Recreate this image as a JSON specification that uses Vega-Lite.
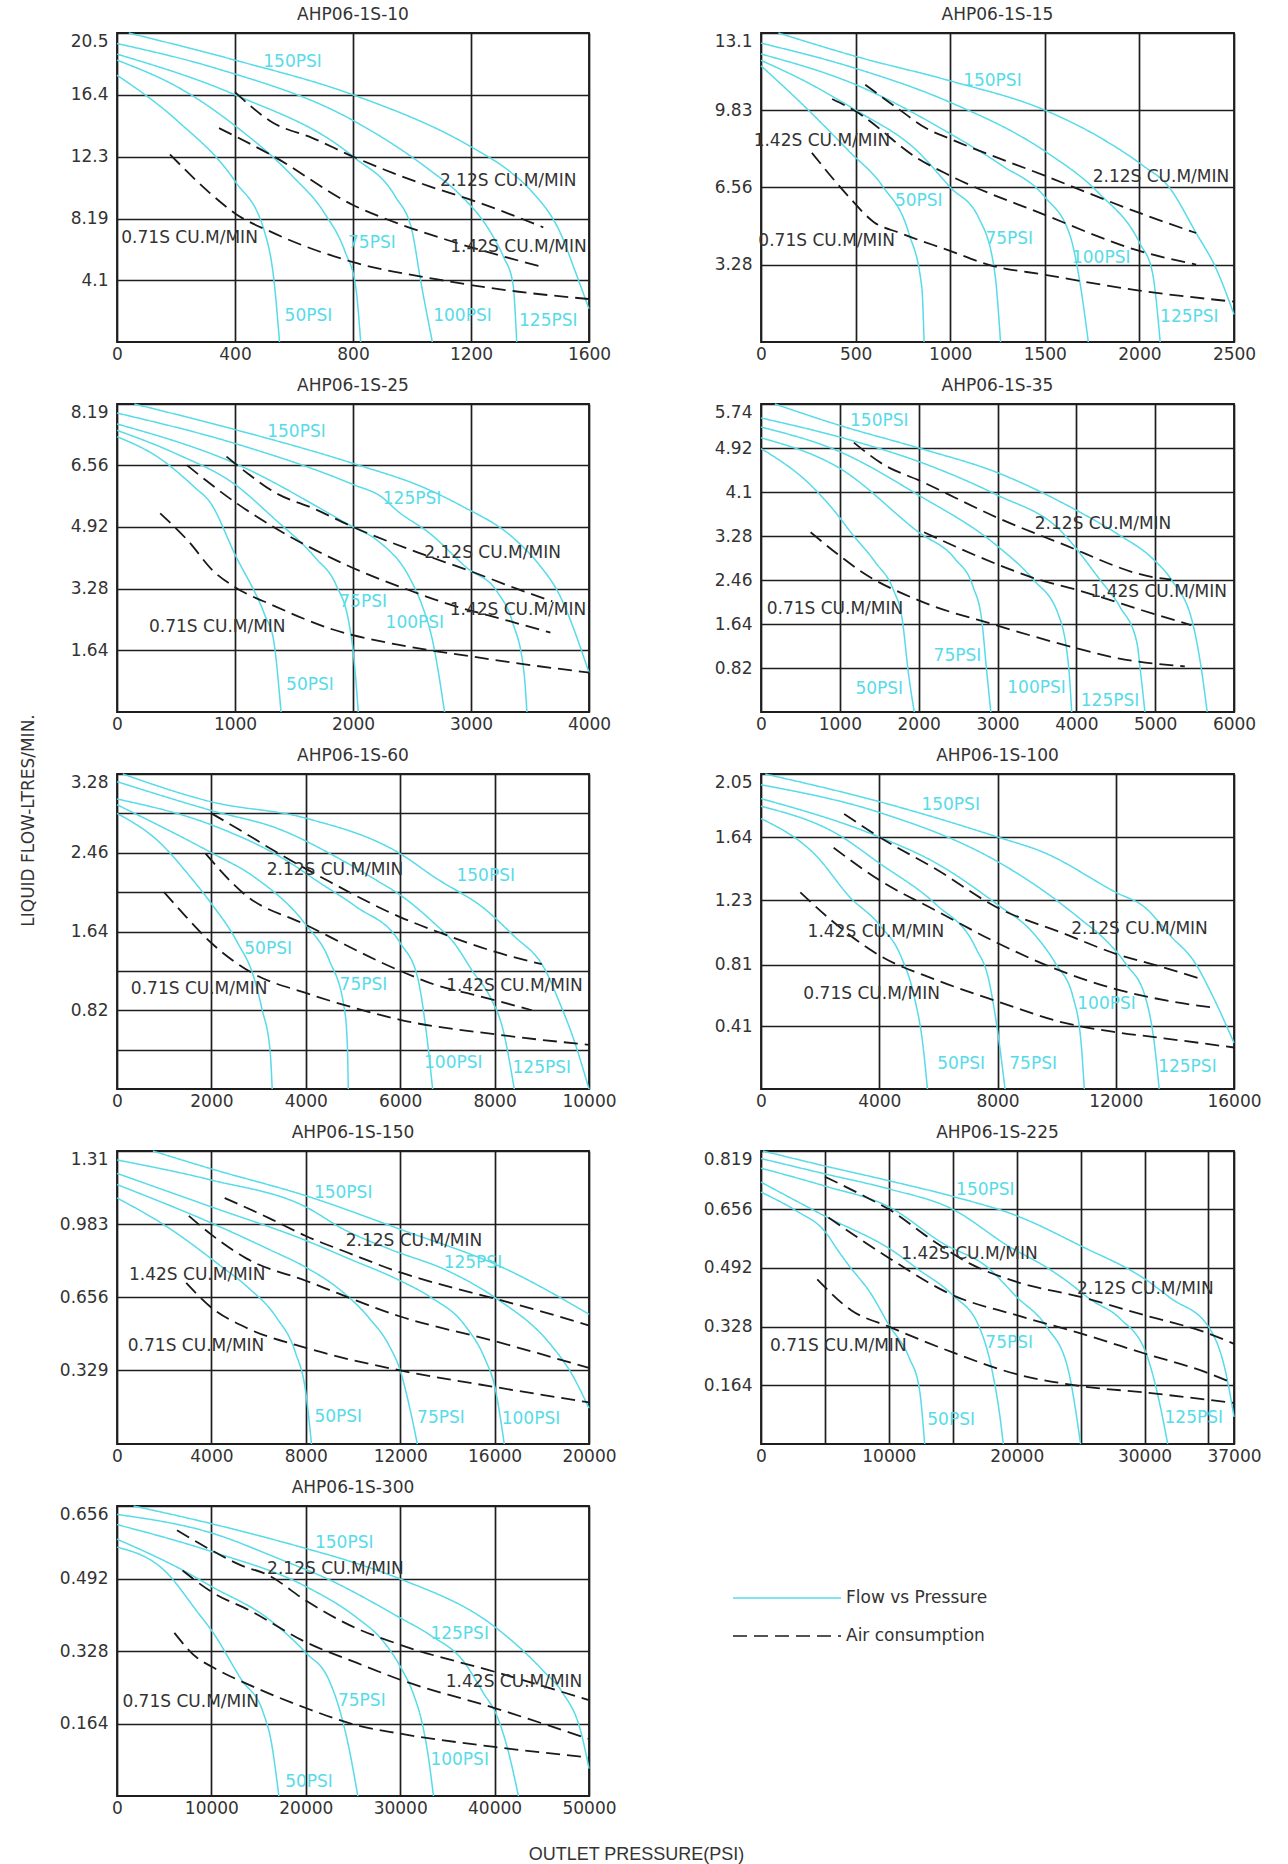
{
"$schema": "https://vega.github.io/schema/vega-lite/v6.json",
"background": "white",
"padding": {"left": 18, "top": 5, "right": 10, "bottom": 0},
"columns": 2,
"bounds": "flush",
"align": "each",
"spacing": {"row": 62, "column": 172},
"config": {
 "font": "DejaVu Sans",
 "view": {"stroke": "#1e1e1e", "strokeWidth": 1.8},
 "axis": {"grid": true, "gridColor": "#1e1e1e", "gridWidth": 1.7, "gridOpacity": 1, "domain": false, "ticks": false, "labelFont": "DejaVu Sans", "labelFontSize": 17, "labelColor": "#333", "format": ".6~g", "labelOverlap": false, "titleFont": "DejaVu Sans", "titleFontSize": 17, "titleFontWeight": "normal", "titleColor": "#333"},
 "axisX": {"labelPadding": 4, "labelFlush": false},
 "axisY": {"labelPadding": 9, "labelFlush": true},
 "title": {"font": "DejaVu Sans", "fontSize": 17, "fontWeight": "normal", "color": "#333", "offset": 6},
 "legend": {"orient": "none", "legendX": 615, "labelFont": "DejaVu Sans", "labelFontSize": 17, "labelColor": "#333", "symbolType": "stroke", "symbolSize": 11664, "symbolStrokeWidth": 1.6, "padding": 0},
 "text": {"font": "DejaVu Sans"}
},
"concat": [
{
 "title": "AHP06-1S-10", "width": 472, "height": 309,
 "encoding": {
  "x": {"field": "x", "type": "quantitative", "title": null, "scale": {"domain": [0, 1600], "nice": false, "zero": false}, "axis": {"values": [0, 400, 800, 1200, 1600]}},
  "y": {"field": "y", "type": "quantitative", "title": null, "scale": {"domain": [0, 20.5], "nice": false}, "axis": {"values": [4.1, 8.19, 12.3, 16.4, 20.5]}}
 },
 "layer": [
  {"data": {"values": [
   {"s":"150","t":"F","x":40,"y":20.5},{"s":"150","t":"F","x":400,"y":18.7},{"s":"150","t":"F","x":800,"y":16.4},{"s":"150","t":"F","x":1200,"y":12.95},{"s":"150","t":"F","x":1329,"y":11.35},{"s":"150","t":"F","x":1400,"y":10.11},{"s":"150","t":"F","x":1510,"y":6.92},{"s":"150","t":"F","x":1548,"y":4.96},{"s":"150","t":"F","x":1600,"y":2.2},
   {"s":"125","t":"F","x":0,"y":19.8},{"s":"125","t":"F","x":328,"y":18.2},{"s":"125","t":"F","x":800,"y":14.7},{"s":"125","t":"F","x":1064,"y":11.35},{"s":"125","t":"F","x":1157,"y":9.88},{"s":"125","t":"F","x":1277,"y":6.92},{"s":"125","t":"F","x":1310,"y":5.65},{"s":"125","t":"F","x":1342,"y":3.9},{"s":"125","t":"F","x":1355,"y":0},
   {"s":"100","t":"F","x":0,"y":19.1},{"s":"100","t":"F","x":400,"y":16.4},{"s":"100","t":"F","x":800,"y":12.3},{"s":"100","t":"F","x":943,"y":9.66},{"s":"100","t":"F","x":1000,"y":7.38},{"s":"100","t":"F","x":1029,"y":4.1},{"s":"100","t":"F","x":1069,"y":0},
   {"s":"75","t":"F","x":0,"y":18.7},{"s":"75","t":"F","x":225,"y":16.7},{"s":"75","t":"F","x":400,"y":14.35},{"s":"75","t":"F","x":595,"y":11.0},{"s":"75","t":"F","x":704,"y":8.53},{"s":"75","t":"F","x":773,"y":6.0},{"s":"75","t":"F","x":809,"y":3.7},{"s":"75","t":"F","x":826,"y":0},
   {"s":"50","t":"F","x":0,"y":17.7},{"s":"50","t":"F","x":203,"y":14.7},{"s":"50","t":"F","x":400,"y":10.67},{"s":"50","t":"F","x":499,"y":7.38},{"s":"50","t":"F","x":532,"y":4.1},{"s":"50","t":"F","x":551,"y":0},
   {"s":"a212","t":"A","x":400,"y":16.58},{"s":"a212","t":"A","x":526,"y":14.58},{"s":"a212","t":"A","x":663,"y":13.53},{"s":"a212","t":"A","x":800,"y":12.3},{"s":"a212","t":"A","x":1057,"y":10.34},{"s":"a212","t":"A","x":1200,"y":9.43},{"s":"a212","t":"A","x":1445,"y":7.61},
   {"s":"a142","t":"A","x":346,"y":14.19},{"s":"a142","t":"A","x":526,"y":12.37},{"s":"a142","t":"A","x":800,"y":9.09},{"s":"a142","t":"A","x":971,"y":7.73},{"s":"a142","t":"A","x":1114,"y":6.8},{"s":"a142","t":"A","x":1445,"y":4.96},
   {"s":"a071","t":"A","x":180,"y":12.44},{"s":"a071","t":"A","x":315,"y":9.88},{"s":"a071","t":"A","x":400,"y":8.53},{"s":"a071","t":"A","x":526,"y":7.27},{"s":"a071","t":"A","x":800,"y":5.3},{"s":"a071","t":"A","x":1086,"y":4.15},{"s":"a071","t":"A","x":1355,"y":3.35},{"s":"a071","t":"A","x":1600,"y":2.85}
  ]},
  "mark": {"type": "line", "interpolate": "monotone"},
  "encoding": {
   "detail": {"field": "s"},
   "color": {"field": "t", "type": "nominal", "title": null, "scale": {"domain": ["F", "A"], "range": ["#58dbe8", "#1a1a1a"]}, "legend": {"values": ["F"], "legendY": 1510, "labelExpr": "'Flow vs Pressure'"}},
   "strokeDash": {"field": "t", "type": "nominal", "title": null, "scale": {"domain": ["A", "F"], "range": [[14, 7], [1, 0]]}, "legend": {"values": ["A"], "legendY": 1548, "labelExpr": "'Air consumption'", "symbolStrokeColor": "#1a1a1a"}},
   "strokeWidth": {"condition": {"test": "datum.t == 'A'", "value": 1.8}, "value": 1.5}
  }},
  {"data": {"values": [
   {"l":"150PSI","k":"p","x":595,"y":18.6},{"l":"2.12S CU.M/MIN","k":"a","x":1326,"y":10.67},{"l":"0.71S CU.M/MIN","k":"a","x":246,"y":6.87},{"l":"75PSI","k":"p","x":864,"y":6.57},{"l":"1.42S CU.M/MIN","k":"a","x":1361,"y":6.27},{"l":"50PSI","k":"p","x":649,"y":1.75},{"l":"100PSI","k":"p","x":1171,"y":1.75},{"l":"125PSI","k":"p","x":1462,"y":1.37}
  ]},
  "mark": {"type": "text", "fontSize": 17, "align": "center", "baseline": "middle"},
  "encoding": {"text": {"field": "l"}, "color": {"condition": {"test": "datum.k == 'p'", "value": "#58dbe8"}, "value": "#333"}}}
 ]
},
{
 "title": "AHP06-1S-15", "width": 473, "height": 309,
 "encoding": {
  "x": {"field": "x", "type": "quantitative", "title": null, "scale": {"domain": [0, 2500], "nice": false, "zero": false}, "axis": {"values": [0, 500, 1000, 1500, 2000, 2500]}},
  "y": {"field": "y", "type": "quantitative", "title": null, "scale": {"domain": [0, 13.1], "nice": false}, "axis": {"values": [3.28, 6.56, 9.83, 13.1]}}
 },
 "layer": [
  {"data": {"values": [
   {"s":"150","t":"F","x":92,"y":13.1},{"s":"150","t":"F","x":500,"y":12.11},{"s":"150","t":"F","x":1000,"y":11.07},{"s":"150","t":"F","x":1500,"y":9.83},{"s":"150","t":"F","x":1787,"y":8.69},{"s":"150","t":"F","x":2015,"y":7.5},{"s":"150","t":"F","x":2152,"y":6.61},{"s":"150","t":"F","x":2300,"y":4.62},{"s":"150","t":"F","x":2405,"y":3.12},{"s":"150","t":"F","x":2500,"y":1.17},
   {"s":"125","t":"F","x":0,"y":12.67},{"s":"125","t":"F","x":500,"y":11.6},{"s":"125","t":"F","x":1000,"y":10.16},{"s":"125","t":"F","x":1500,"y":8.09},{"s":"125","t":"F","x":1787,"y":6.3},{"s":"125","t":"F","x":2004,"y":4.16},{"s":"125","t":"F","x":2068,"y":2.98},{"s":"125","t":"F","x":2110,"y":0},
   {"s":"100","t":"F","x":0,"y":12.21},{"s":"100","t":"F","x":500,"y":10.91},{"s":"100","t":"F","x":1000,"y":8.83},{"s":"100","t":"F","x":1270,"y":7.5},{"s":"100","t":"F","x":1500,"y":6.15},{"s":"100","t":"F","x":1635,"y":4.47},{"s":"100","t":"F","x":1690,"y":2.31},{"s":"100","t":"F","x":1730,"y":0},
   {"s":"75","t":"F","x":0,"y":11.94},{"s":"75","t":"F","x":229,"y":11.07},{"s":"75","t":"F","x":500,"y":9.83},{"s":"75","t":"F","x":827,"y":8.09},{"s":"75","t":"F","x":1000,"y":6.56},{"s":"75","t":"F","x":1153,"y":5.23},{"s":"75","t":"F","x":1235,"y":2.98},{"s":"75","t":"F","x":1266,"y":0},
   {"s":"50","t":"F","x":0,"y":11.71},{"s":"50","t":"F","x":229,"y":10.0},{"s":"50","t":"F","x":465,"y":8.09},{"s":"50","t":"F","x":643,"y":6.6},{"s":"50","t":"F","x":781,"y":4.62},{"s":"50","t":"F","x":850,"y":2.31},{"s":"50","t":"F","x":862,"y":0},
   {"s":"a212","t":"A","x":551,"y":10.91},{"s":"a212","t":"A","x":735,"y":9.83},{"s":"a212","t":"A","x":873,"y":9.06},{"s":"a212","t":"A","x":1000,"y":8.61},{"s":"a212","t":"A","x":1500,"y":7.05},{"s":"a212","t":"A","x":2004,"y":5.46},{"s":"a212","t":"A","x":2300,"y":4.62},
   {"s":"a142","t":"A","x":376,"y":10.3},{"s":"a142","t":"A","x":500,"y":9.78},{"s":"a142","t":"A","x":827,"y":7.79},{"s":"a142","t":"A","x":1000,"y":7.05},{"s":"a142","t":"A","x":1500,"y":5.39},{"s":"a142","t":"A","x":2000,"y":3.86},{"s":"a142","t":"A","x":2300,"y":3.28},
   {"s":"a071","t":"A","x":269,"y":8.02},{"s":"a071","t":"A","x":465,"y":6.15},{"s":"a071","t":"A","x":597,"y":5.08},{"s":"a071","t":"A","x":735,"y":4.62},{"s":"a071","t":"A","x":1000,"y":3.86},{"s":"a071","t":"A","x":1200,"y":3.28},{"s":"a071","t":"A","x":1500,"y":2.85},{"s":"a071","t":"A","x":2000,"y":2.18},{"s":"a071","t":"A","x":2500,"y":1.71}
  ]},
  "mark": {"type": "line", "interpolate": "monotone"},
  "encoding": {
   "detail": {"field": "s"},
   "color": {"field": "t", "type": "nominal", "title": null, "scale": {"domain": ["F", "A"], "range": ["#58dbe8", "#1a1a1a"]}, "legend": null},
   "strokeDash": {"field": "t", "type": "nominal", "title": null, "scale": {"domain": ["A", "F"], "range": [[14, 7], [1, 0]]}, "legend": null},
   "strokeWidth": {"condition": {"test": "datum.t == 'A'", "value": 1.8}, "value": 1.5}
  }},
  {"data": {"values": [
   {"l":"150PSI","k":"p","x":1223,"y":11.07},{"l":"1.42S CU.M/MIN","k":"a","x":322,"y":8.51},{"l":"2.12S CU.M/MIN","k":"a","x":2114,"y":6.98},{"l":"50PSI","k":"p","x":834,"y":5.99},{"l":"0.71S CU.M/MIN","k":"a","x":347,"y":4.29},{"l":"75PSI","k":"p","x":1312,"y":4.37},{"l":"100PSI","k":"p","x":1798,"y":3.55},{"l":"125PSI","k":"p","x":2264,"y":1.08}
  ]},
  "mark": {"type": "text", "fontSize": 17, "align": "center", "baseline": "middle"},
  "encoding": {"text": {"field": "l"}, "color": {"condition": {"test": "datum.k == 'p'", "value": "#58dbe8"}, "value": "#333"}}}
 ]
},
{
 "title": "AHP06-1S-25", "width": 472, "height": 308,
 "encoding": {
  "x": {"field": "x", "type": "quantitative", "title": null, "scale": {"domain": [0, 4000], "nice": false, "zero": false}, "axis": {"values": [0, 1000, 2000, 3000, 4000]}},
  "y": {"field": "y", "type": "quantitative", "title": "LIQUID FLOW-LTRES/MIN.", "scale": {"domain": [0, 8.19], "nice": false}, "axis": {"values": [1.64, 3.28, 4.92, 6.56, 8.19], "titleX": -80, "titleY": 416, "titleAlign": "center", "titleAngle": 270, "titleBaseline": "bottom", "titleFontSize": 17}}
 },
 "layer": [
  {"data": {"values": [
   {"s":"150","t":"F","x":147,"y":8.19},{"s":"150","t":"F","x":1000,"y":7.51},{"s":"150","t":"F","x":2000,"y":6.61},{"s":"150","t":"F","x":2621,"y":5.94},{"s":"150","t":"F","x":2914,"y":5.49},{"s":"150","t":"F","x":3369,"y":4.6},{"s":"150","t":"F","x":3577,"y":3.92},{"s":"150","t":"F","x":3737,"y":3.19},{"s":"150","t":"F","x":4000,"y":1.05},
   {"s":"125","t":"F","x":0,"y":7.95},{"s":"125","t":"F","x":1000,"y":7.14},{"s":"125","t":"F","x":2000,"y":6.05},{"s":"125","t":"F","x":2241,"y":5.72},{"s":"125","t":"F","x":2379,"y":5.34},{"s":"125","t":"F","x":2655,"y":4.74},{"s":"125","t":"F","x":2966,"y":3.83},{"s":"125","t":"F","x":3224,"y":3.19},{"s":"125","t":"F","x":3353,"y":2.38},{"s":"125","t":"F","x":3449,"y":1.05},{"s":"125","t":"F","x":3474,"y":0},
   {"s":"100","t":"F","x":0,"y":7.66},{"s":"100","t":"F","x":1000,"y":6.61},{"s":"100","t":"F","x":2000,"y":4.92},{"s":"100","t":"F","x":2207,"y":4.56},{"s":"100","t":"F","x":2483,"y":3.55},{"s":"100","t":"F","x":2586,"y":2.83},{"s":"100","t":"F","x":2672,"y":1.93},{"s":"100","t":"F","x":2776,"y":0},
   {"s":"75","t":"F","x":0,"y":7.49},{"s":"75","t":"F","x":506,"y":6.86},{"s":"75","t":"F","x":1000,"y":6.05},{"s":"75","t":"F","x":1326,"y":5.16},{"s":"75","t":"F","x":1681,"y":4.1},{"s":"75","t":"F","x":1858,"y":3.37},{"s":"75","t":"F","x":1965,"y":2.38},{"s":"75","t":"F","x":2000,"y":1.66},{"s":"75","t":"F","x":2045,"y":0},
   {"s":"50","t":"F","x":0,"y":7.32},{"s":"50","t":"F","x":350,"y":6.77},{"s":"50","t":"F","x":663,"y":5.96},{"s":"50","t":"F","x":788,"y":5.58},{"s":"50","t":"F","x":1000,"y":4.19},{"s":"50","t":"F","x":1255,"y":2.56},{"s":"50","t":"F","x":1326,"y":1.93},{"s":"50","t":"F","x":1390,"y":0},
   {"s":"a212","t":"A","x":928,"y":6.79},{"s":"a212","t":"A","x":1113,"y":6.33},{"s":"a212","t":"A","x":1326,"y":5.86},{"s":"a212","t":"A","x":1681,"y":5.39},{"s":"a212","t":"A","x":2000,"y":4.92},{"s":"a212","t":"A","x":2552,"y":4.24},{"s":"a212","t":"A","x":3000,"y":3.74},{"s":"a212","t":"A","x":3385,"y":3.28},{"s":"a212","t":"A","x":3689,"y":2.94},
   {"s":"a142","t":"A","x":594,"y":6.56},{"s":"a142","t":"A","x":1000,"y":5.58},{"s":"a142","t":"A","x":1326,"y":4.92},{"s":"a142","t":"A","x":2000,"y":3.83},{"s":"a142","t":"A","x":2483,"y":3.23},{"s":"a142","t":"A","x":2759,"y":2.92},{"s":"a142","t":"A","x":3321,"y":2.42},{"s":"a142","t":"A","x":3673,"y":2.11},
   {"s":"a071","t":"A","x":366,"y":5.28},{"s":"a071","t":"A","x":600,"y":4.56},{"s":"a071","t":"A","x":819,"y":3.74},{"s":"a071","t":"A","x":1000,"y":3.32},{"s":"a071","t":"A","x":1326,"y":2.83},{"s":"a071","t":"A","x":1823,"y":2.2},{"s":"a071","t":"A","x":2379,"y":1.79},{"s":"a071","t":"A","x":3000,"y":1.48},{"s":"a071","t":"A","x":3545,"y":1.23},{"s":"a071","t":"A","x":4000,"y":1.05}
  ]},
  "mark": {"type": "line", "interpolate": "monotone"},
  "encoding": {
   "detail": {"field": "s"},
   "color": {"field": "t", "type": "nominal", "title": null, "scale": {"domain": ["F", "A"], "range": ["#58dbe8", "#1a1a1a"]}, "legend": null},
   "strokeDash": {"field": "t", "type": "nominal", "title": null, "scale": {"domain": ["A", "F"], "range": [[14, 7], [1, 0]]}, "legend": null},
   "strokeWidth": {"condition": {"test": "datum.t == 'A'", "value": 1.8}, "value": 1.5}
  }},
  {"data": {"values": [
   {"l":"150PSI","k":"p","x":1521,"y":7.45},{"l":"125PSI","k":"p","x":2500,"y":5.66},{"l":"2.12S CU.M/MIN","k":"a","x":3183,"y":4.24},{"l":"75PSI","k":"p","x":2086,"y":2.92},{"l":"1.42S CU.M/MIN","k":"a","x":3398,"y":2.7},{"l":"100PSI","k":"p","x":2524,"y":2.36},{"l":"0.71S CU.M/MIN","k":"a","x":850,"y":2.27},{"l":"50PSI","k":"p","x":1635,"y":0.71}
  ]},
  "mark": {"type": "text", "fontSize": 17, "align": "center", "baseline": "middle"},
  "encoding": {"text": {"field": "l"}, "color": {"condition": {"test": "datum.k == 'p'", "value": "#58dbe8"}, "value": "#333"}}}
 ]
},
{
 "title": "AHP06-1S-35", "width": 473, "height": 308,
 "encoding": {
  "x": {"field": "x", "type": "quantitative", "title": null, "scale": {"domain": [0, 6000], "nice": false, "zero": false}, "axis": {"values": [0, 1000, 2000, 3000, 4000, 5000, 6000]}},
  "y": {"field": "y", "type": "quantitative", "title": null, "scale": {"domain": [0, 5.74], "nice": false}, "axis": {"values": [0.82, 1.64, 2.46, 3.28, 4.1, 4.92, 5.74]}}
 },
 "layer": [
  {"data": {"values": [
   {"s":"150","t":"F","x":176,"y":5.74},{"s":"150","t":"F","x":1000,"y":5.34},{"s":"150","t":"F","x":2000,"y":4.92},{"s":"150","t":"F","x":3000,"y":4.46},{"s":"150","t":"F","x":4000,"y":3.76},{"s":"150","t":"F","x":4531,"y":3.31},{"s":"150","t":"F","x":4974,"y":2.85},{"s":"150","t":"F","x":5203,"y":2.47},{"s":"150","t":"F","x":5482,"y":1.62},{"s":"150","t":"F","x":5584,"y":0.82},{"s":"150","t":"F","x":5660,"y":0},
   {"s":"125","t":"F","x":0,"y":5.48},{"s":"125","t":"F","x":1178,"y":5.05},{"s":"125","t":"F","x":2124,"y":4.6},{"s":"125","t":"F","x":3000,"y":4.04},{"s":"125","t":"F","x":3771,"y":3.42},{"s":"125","t":"F","x":4297,"y":2.47},{"s":"125","t":"F","x":4557,"y":1.95},{"s":"125","t":"F","x":4766,"y":1.31},{"s":"125","t":"F","x":4818,"y":0.7},{"s":"125","t":"F","x":4870,"y":0},
   {"s":"100","t":"F","x":0,"y":5.31},{"s":"100","t":"F","x":1000,"y":4.85},{"s":"100","t":"F","x":2000,"y":4.04},{"s":"100","t":"F","x":3000,"y":3.09},{"s":"100","t":"F","x":3452,"y":2.47},{"s":"100","t":"F","x":3771,"y":1.82},{"s":"100","t":"F","x":3904,"y":0.82},{"s":"100","t":"F","x":3941,"y":0},
   {"s":"75","t":"F","x":0,"y":5.11},{"s":"75","t":"F","x":1000,"y":4.54},{"s":"75","t":"F","x":2000,"y":3.35},{"s":"75","t":"F","x":2463,"y":2.85},{"s":"75","t":"F","x":2689,"y":2.34},{"s":"75","t":"F","x":2802,"y":1.69},{"s":"75","t":"F","x":2859,"y":0.82},{"s":"75","t":"F","x":2915,"y":0},
   {"s":"50","t":"F","x":0,"y":4.91},{"s":"50","t":"F","x":629,"y":4.23},{"s":"50","t":"F","x":962,"y":3.69},{"s":"50","t":"F","x":1122,"y":3.38},{"s":"50","t":"F","x":1456,"y":2.78},{"s":"50","t":"F","x":1678,"y":2.28},{"s":"50","t":"F","x":1789,"y":1.75},{"s":"50","t":"F","x":1872,"y":0.7},{"s":"50","t":"F","x":1944,"y":0},
   {"s":"a212","t":"A","x":1178,"y":5.02},{"s":"a212","t":"A","x":1567,"y":4.6},{"s":"a212","t":"A","x":2000,"y":4.32},{"s":"a212","t":"A","x":3000,"y":3.62},{"s":"a212","t":"A","x":3771,"y":3.16},{"s":"a212","t":"A","x":5026,"y":2.5},{"s":"a212","t":"A","x":5203,"y":2.47},
   {"s":"a142","t":"A","x":2068,"y":3.35},{"s":"a142","t":"A","x":3000,"y":2.75},{"s":"a142","t":"A","x":3452,"y":2.5},{"s":"a142","t":"A","x":4000,"y":2.28},{"s":"a142","t":"A","x":5000,"y":1.82},{"s":"a142","t":"A","x":5457,"y":1.62},
   {"s":"a071","t":"A","x":629,"y":3.35},{"s":"a071","t":"A","x":1000,"y":2.91},{"s":"a071","t":"A","x":1289,"y":2.6},{"s":"a071","t":"A","x":2000,"y":2.08},{"s":"a071","t":"A","x":3000,"y":1.61},{"s":"a071","t":"A","x":4000,"y":1.19},{"s":"a071","t":"A","x":4531,"y":1.0},{"s":"a071","t":"A","x":5376,"y":0.85}
  ]},
  "mark": {"type": "line", "interpolate": "monotone"},
  "encoding": {
   "detail": {"field": "s"},
   "color": {"field": "t", "type": "nominal", "title": null, "scale": {"domain": ["F", "A"], "range": ["#58dbe8", "#1a1a1a"]}, "legend": null},
   "strokeDash": {"field": "t", "type": "nominal", "title": null, "scale": {"domain": ["A", "F"], "range": [[14, 7], [1, 0]]}, "legend": null},
   "strokeWidth": {"condition": {"test": "datum.t == 'A'", "value": 1.8}, "value": 1.5}
  }},
  {"data": {"values": [
   {"l":"150PSI","k":"p","x":1500,"y":5.42},{"l":"2.12S CU.M/MIN","k":"a","x":4339,"y":3.51},{"l":"1.42S CU.M/MIN","k":"a","x":5045,"y":2.23},{"l":"0.71S CU.M/MIN","k":"a","x":938,"y":1.92},{"l":"75PSI","k":"p","x":2492,"y":1.05},{"l":"50PSI","k":"p","x":1500,"y":0.42},{"l":"100PSI","k":"p","x":3495,"y":0.44},{"l":"125PSI","k":"p","x":4427,"y":0.21}
  ]},
  "mark": {"type": "text", "fontSize": 17, "align": "center", "baseline": "middle"},
  "encoding": {"text": {"field": "l"}, "color": {"condition": {"test": "datum.k == 'p'", "value": "#58dbe8"}, "value": "#333"}}}
 ]
},
{
 "title": "AHP06-1S-60", "width": 472, "height": 315,
 "encoding": {
  "x": {"field": "x", "type": "quantitative", "title": null, "scale": {"domain": [0, 10000], "nice": false, "zero": false}, "axis": {"values": [0, 2000, 4000, 6000, 8000, 10000]}},
  "y": {"field": "y", "type": "quantitative", "title": null, "scale": {"domain": [0, 3.28], "nice": false}, "axis": {"values": [0.41, 0.82, 1.23, 1.64, 2.05, 2.46, 2.87, 3.28], "labelExpr": "indexof([0.82, 1.64, 2.46, 3.28], datum.value) >= 0 ? datum.label : ''"}}
 },
 "layer": [
  {"data": {"values": [
   {"s":"150","t":"F","x":122,"y":3.28},{"s":"150","t":"F","x":2000,"y":2.99},{"s":"150","t":"F","x":4000,"y":2.82},{"s":"150","t":"F","x":6000,"y":2.45},{"s":"150","t":"F","x":6712,"y":2.21},{"s":"150","t":"F","x":7828,"y":1.86},{"s":"150","t":"F","x":8417,"y":1.59},{"s":"150","t":"F","x":9000,"y":1.3},{"s":"150","t":"F","x":9083,"y":1.23},{"s":"150","t":"F","x":9333,"y":0.95},{"s":"150","t":"F","x":9667,"y":0.53},{"s":"150","t":"F","x":10000,"y":0},
   {"s":"125","t":"F","x":0,"y":3.2},{"s":"125","t":"F","x":2000,"y":2.9},{"s":"125","t":"F","x":3416,"y":2.71},{"s":"125","t":"F","x":4739,"y":2.39},{"s":"125","t":"F","x":5542,"y":2.16},{"s":"125","t":"F","x":6000,"y":2.02},{"s":"125","t":"F","x":6712,"y":1.73},{"s":"125","t":"F","x":7142,"y":1.52},{"s":"125","t":"F","x":7528,"y":1.23},{"s":"125","t":"F","x":7914,"y":0.95},{"s":"125","t":"F","x":8167,"y":0.64},{"s":"125","t":"F","x":8417,"y":0},
   {"s":"100","t":"F","x":0,"y":3.02},{"s":"100","t":"F","x":2000,"y":2.75},{"s":"100","t":"F","x":3588,"y":2.38},{"s":"100","t":"F","x":4257,"y":2.16},{"s":"100","t":"F","x":5060,"y":1.9},{"s":"100","t":"F","x":6000,"y":1.52},{"s":"100","t":"F","x":6369,"y":1.16},{"s":"100","t":"F","x":6541,"y":0.64},{"s":"100","t":"F","x":6687,"y":0},
   {"s":"75","t":"F","x":0,"y":2.96},{"s":"75","t":"F","x":2000,"y":2.46},{"s":"75","t":"F","x":2901,"y":2.21},{"s":"75","t":"F","x":4000,"y":1.71},{"s":"75","t":"F","x":4498,"y":1.34},{"s":"75","t":"F","x":4819,"y":0.83},{"s":"75","t":"F","x":4880,"y":0.46},{"s":"75","t":"F","x":4900,"y":0},
   {"s":"50","t":"F","x":0,"y":2.87},{"s":"50","t":"F","x":898,"y":2.57},{"s":"50","t":"F","x":1551,"y":2.21},{"s":"50","t":"F","x":2000,"y":1.93},{"s":"50","t":"F","x":2558,"y":1.52},{"s":"50","t":"F","x":2901,"y":1.16},{"s":"50","t":"F","x":3073,"y":0.83},{"s":"50","t":"F","x":3245,"y":0.39},{"s":"50","t":"F","x":3288,"y":0},
   {"s":"a212","t":"A","x":2000,"y":2.87},{"s":"a212","t":"A","x":2558,"y":2.71},{"s":"a212","t":"A","x":3330,"y":2.48},{"s":"a212","t":"A","x":4498,"y":2.16},{"s":"a212","t":"A","x":6000,"y":1.79},{"s":"a212","t":"A","x":6884,"y":1.62},{"s":"a212","t":"A","x":8000,"y":1.43},{"s":"a212","t":"A","x":9000,"y":1.3},
   {"s":"a142","t":"A","x":1878,"y":2.45},{"s":"a142","t":"A","x":2695,"y":2.03},{"s":"a142","t":"A","x":4000,"y":1.71},{"s":"a142","t":"A","x":6000,"y":1.23},{"s":"a142","t":"A","x":6712,"y":1.09},{"s":"a142","t":"A","x":7657,"y":0.97},{"s":"a142","t":"A","x":8792,"y":0.82},
   {"s":"a071","t":"A","x":996,"y":2.05},{"s":"a071","t":"A","x":1469,"y":1.79},{"s":"a071","t":"A","x":2000,"y":1.52},{"s":"a071","t":"A","x":2858,"y":1.21},{"s":"a071","t":"A","x":4000,"y":1.0},{"s":"a071","t":"A","x":5060,"y":0.84},{"s":"a071","t":"A","x":6000,"y":0.72},{"s":"a071","t":"A","x":8000,"y":0.57},{"s":"a071","t":"A","x":10000,"y":0.46}
  ]},
  "mark": {"type": "line", "interpolate": "monotone"},
  "encoding": {
   "detail": {"field": "s"},
   "color": {"field": "t", "type": "nominal", "title": null, "scale": {"domain": ["F", "A"], "range": ["#58dbe8", "#1a1a1a"]}, "legend": null},
   "strokeDash": {"field": "t", "type": "nominal", "title": null, "scale": {"domain": ["A", "F"], "range": [[14, 7], [1, 0]]}, "legend": null},
   "strokeWidth": {"condition": {"test": "datum.t == 'A'", "value": 1.8}, "value": 1.5}
  }},
  {"data": {"values": [
   {"l":"2.12S CU.M/MIN","k":"a","x":4618,"y":2.28},{"l":"150PSI","k":"p","x":7811,"y":2.22},{"l":"50PSI","k":"p","x":3202,"y":1.46},{"l":"0.71S CU.M/MIN","k":"a","x":1740,"y":1.04},{"l":"75PSI","k":"p","x":5221,"y":1.08},{"l":"1.42S CU.M/MIN","k":"a","x":8420,"y":1.07},{"l":"100PSI","k":"p","x":7124,"y":0.27},{"l":"125PSI","k":"p","x":9000,"y":0.22}
  ]},
  "mark": {"type": "text", "fontSize": 17, "align": "center", "baseline": "middle"},
  "encoding": {"text": {"field": "l"}, "color": {"condition": {"test": "datum.k == 'p'", "value": "#58dbe8"}, "value": "#333"}}}
 ]
},
{
 "title": "AHP06-1S-100", "width": 473, "height": 315,
 "encoding": {
  "x": {"field": "x", "type": "quantitative", "title": null, "scale": {"domain": [0, 16000], "nice": false, "zero": false}, "axis": {"values": [0, 4000, 8000, 12000, 16000]}},
  "y": {"field": "y", "type": "quantitative", "title": null, "scale": {"domain": [0, 2.05], "nice": false}, "axis": {"values": [0.41, 0.81, 1.23, 1.64, 2.05]}}
 },
 "layer": [
  {"data": {"values": [
   {"s":"150","t":"F","x":143,"y":2.05},{"s":"150","t":"F","x":4000,"y":1.87},{"s":"150","t":"F","x":8000,"y":1.64},{"s":"150","t":"F","x":9560,"y":1.54},{"s":"150","t":"F","x":12000,"y":1.28},{"s":"150","t":"F","x":12997,"y":1.18},{"s":"150","t":"F","x":13885,"y":0.99},{"s":"150","t":"F","x":14652,"y":0.83},{"s":"150","t":"F","x":15291,"y":0.6},{"s":"150","t":"F","x":16000,"y":0.3},
   {"s":"125","t":"F","x":0,"y":1.98},{"s":"125","t":"F","x":4000,"y":1.8},{"s":"125","t":"F","x":8000,"y":1.48},{"s":"125","t":"F","x":9702,"y":1.27},{"s":"125","t":"F","x":10908,"y":1.09},{"s":"125","t":"F","x":11546,"y":0.99},{"s":"125","t":"F","x":12358,"y":0.81},{"s":"125","t":"F","x":12997,"y":0.6},{"s":"125","t":"F","x":13316,"y":0.28},{"s":"125","t":"F","x":13469,"y":0},
   {"s":"100","t":"F","x":0,"y":1.89},{"s":"100","t":"F","x":4000,"y":1.64},{"s":"100","t":"F","x":5926,"y":1.47},{"s":"100","t":"F","x":8000,"y":1.2},{"s":"100","t":"F","x":9135,"y":1.03},{"s":"100","t":"F","x":9986,"y":0.81},{"s":"100","t":"F","x":10553,"y":0.6},{"s":"100","t":"F","x":10837,"y":0.28},{"s":"100","t":"F","x":10936,"y":0},
   {"s":"75","t":"F","x":0,"y":1.84},{"s":"75","t":"F","x":2571,"y":1.66},{"s":"75","t":"F","x":4000,"y":1.47},{"s":"75","t":"F","x":5926,"y":1.2},{"s":"75","t":"F","x":7259,"y":0.92},{"s":"75","t":"F","x":7704,"y":0.71},{"s":"75","t":"F","x":8000,"y":0.38},{"s":"75","t":"F","x":8255,"y":0},
   {"s":"50","t":"F","x":0,"y":1.76},{"s":"50","t":"F","x":1857,"y":1.52},{"s":"50","t":"F","x":3000,"y":1.25},{"s":"50","t":"F","x":4000,"y":1.07},{"s":"50","t":"F","x":4741,"y":0.86},{"s":"50","t":"F","x":5185,"y":0.6},{"s":"50","t":"F","x":5481,"y":0.28},{"s":"50","t":"F","x":5630,"y":0},
   {"s":"a212","t":"A","x":2814,"y":1.79},{"s":"a212","t":"A","x":4000,"y":1.64},{"s":"a212","t":"A","x":5926,"y":1.43},{"s":"a212","t":"A","x":8000,"y":1.18},{"s":"a212","t":"A","x":10270,"y":1.01},{"s":"a212","t":"A","x":12000,"y":0.88},{"s":"a212","t":"A","x":13636,"y":0.79},{"s":"a212","t":"A","x":14978,"y":0.71},
   {"s":"a142","t":"A","x":2457,"y":1.57},{"s":"a142","t":"A","x":4000,"y":1.36},{"s":"a142","t":"A","x":5926,"y":1.16},{"s":"a142","t":"A","x":8000,"y":0.95},{"s":"a142","t":"A","x":9986,"y":0.78},{"s":"a142","t":"A","x":12000,"y":0.65},{"s":"a142","t":"A","x":13885,"y":0.57},{"s":"a142","t":"A","x":15291,"y":0.53},
   {"s":"a071","t":"A","x":1329,"y":1.28},{"s":"a071","t":"A","x":2429,"y":1.09},{"s":"a071","t":"A","x":4000,"y":0.87},{"s":"a071","t":"A","x":5926,"y":0.71},{"s":"a071","t":"A","x":8000,"y":0.57},{"s":"a071","t":"A","x":10270,"y":0.43},{"s":"a071","t":"A","x":12000,"y":0.37},{"s":"a071","t":"A","x":13636,"y":0.33},{"s":"a071","t":"A","x":16000,"y":0.27}
  ]},
  "mark": {"type": "line", "interpolate": "monotone"},
  "encoding": {
   "detail": {"field": "s"},
   "color": {"field": "t", "type": "nominal", "title": null, "scale": {"domain": ["F", "A"], "range": ["#58dbe8", "#1a1a1a"]}, "legend": null},
   "strokeDash": {"field": "t", "type": "nominal", "title": null, "scale": {"domain": ["A", "F"], "range": [[14, 7], [1, 0]]}, "legend": null},
   "strokeWidth": {"condition": {"test": "datum.t == 'A'", "value": 1.8}, "value": 1.5}
  }},
  {"data": {"values": [
   {"l":"150PSI","k":"p","x":6415,"y":1.85},{"l":"1.42S CU.M/MIN","k":"a","x":3886,"y":1.02},{"l":"2.12S CU.M/MIN","k":"a","x":12805,"y":1.04},{"l":"0.71S CU.M/MIN","k":"a","x":3743,"y":0.62},{"l":"100PSI","k":"p","x":11688,"y":0.55},{"l":"50PSI","k":"p","x":6770,"y":0.16},{"l":"75PSI","k":"p","x":9206,"y":0.16},{"l":"125PSI","k":"p","x":14424,"y":0.14}
  ]},
  "mark": {"type": "text", "fontSize": 17, "align": "center", "baseline": "middle"},
  "encoding": {"text": {"field": "l"}, "color": {"condition": {"test": "datum.k == 'p'", "value": "#58dbe8"}, "value": "#333"}}}
 ]
},
{
 "title": "AHP06-1S-150", "width": 472, "height": 293,
 "encoding": {
  "x": {"field": "x", "type": "quantitative", "title": null, "scale": {"domain": [0, 20000], "nice": false, "zero": false}, "axis": {"values": [0, 4000, 8000, 12000, 16000, 20000]}},
  "y": {"field": "y", "type": "quantitative", "title": null, "scale": {"domain": [0, 1.31], "nice": false}, "axis": {"values": [0.329, 0.656, 0.983, 1.31]}}
 },
 "layer": [
  {"data": {"values": [
   {"s":"150","t":"F","x":1522,"y":1.31},{"s":"150","t":"F","x":4000,"y":1.23},{"s":"150","t":"F","x":8000,"y":1.11},{"s":"150","t":"F","x":12000,"y":0.96},{"s":"150","t":"F","x":16525,"y":0.78},{"s":"150","t":"F","x":20000,"y":0.58},
   {"s":"125","t":"F","x":0,"y":1.27},{"s":"125","t":"F","x":4000,"y":1.18},{"s":"125","t":"F","x":8000,"y":1.06},{"s":"125","t":"F","x":9600,"y":0.96},{"s":"125","t":"F","x":11583,"y":0.87},{"s":"125","t":"F","x":14000,"y":0.775},{"s":"125","t":"F","x":16000,"y":0.656},{"s":"125","t":"F","x":18410,"y":0.44},{"s":"125","t":"F","x":19230,"y":0.32},{"s":"125","t":"F","x":20000,"y":0.16},
   {"s":"100","t":"F","x":0,"y":1.21},{"s":"100","t":"F","x":4000,"y":1.06},{"s":"100","t":"F","x":8000,"y":0.91},{"s":"100","t":"F","x":9791,"y":0.83},{"s":"100","t":"F","x":12000,"y":0.73},{"s":"100","t":"F","x":13292,"y":0.656},{"s":"100","t":"F","x":14708,"y":0.535},{"s":"100","t":"F","x":15593,"y":0.38},{"s":"100","t":"F","x":16000,"y":0.26},{"s":"100","t":"F","x":16410,"y":0},
   {"s":"75","t":"F","x":0,"y":1.16},{"s":"75","t":"F","x":4000,"y":0.988},{"s":"75","t":"F","x":6442,"y":0.87},{"s":"75","t":"F","x":8000,"y":0.79},{"s":"75","t":"F","x":9443,"y":0.69},{"s":"75","t":"F","x":10661,"y":0.566},{"s":"75","t":"F","x":11530,"y":0.44},{"s":"75","t":"F","x":12000,"y":0.329},{"s":"75","t":"F","x":12407,"y":0.16},{"s":"75","t":"F","x":12726,"y":0},
   {"s":"50","t":"F","x":0,"y":1.1},{"s":"50","t":"F","x":1992,"y":0.98},{"s":"50","t":"F","x":4345,"y":0.8},{"s":"50","t":"F","x":5550,"y":0.7},{"s":"50","t":"F","x":6755,"y":0.566},{"s":"50","t":"F","x":7558,"y":0.41},{"s":"50","t":"F","x":8000,"y":0.23},{"s":"50","t":"F","x":8241,"y":0},
   {"s":"a212","t":"A","x":4562,"y":1.1},{"s":"a212","t":"A","x":6442,"y":1.01},{"s":"a212","t":"A","x":8000,"y":0.93},{"s":"a212","t":"A","x":9791,"y":0.855},{"s":"a212","t":"A","x":12000,"y":0.767},{"s":"a212","t":"A","x":14177,"y":0.7},{"s":"a212","t":"A","x":16000,"y":0.65},{"s":"a212","t":"A","x":18082,"y":0.59},{"s":"a212","t":"A","x":20000,"y":0.53},
   {"s":"a142","t":"A","x":3043,"y":1.02},{"s":"a142","t":"A","x":4000,"y":0.936},{"s":"a142","t":"A","x":5478,"y":0.83},{"s":"a142","t":"A","x":8000,"y":0.73},{"s":"a142","t":"A","x":12000,"y":0.57},{"s":"a142","t":"A","x":16000,"y":0.46},{"s":"a142","t":"A","x":20000,"y":0.34},
   {"s":"a071","t":"A","x":2933,"y":0.72},{"s":"a071","t":"A","x":4000,"y":0.61},{"s":"a071","t":"A","x":5478,"y":0.52},{"s":"a071","t":"A","x":8000,"y":0.43},{"s":"a071","t":"A","x":12000,"y":0.329},{"s":"a071","t":"A","x":16000,"y":0.255},{"s":"a071","t":"A","x":20000,"y":0.186}
  ]},
  "mark": {"type": "line", "interpolate": "monotone"},
  "encoding": {
   "detail": {"field": "s"},
   "color": {"field": "t", "type": "nominal", "title": null, "scale": {"domain": ["F", "A"], "range": ["#58dbe8", "#1a1a1a"]}, "legend": null},
   "strokeDash": {"field": "t", "type": "nominal", "title": null, "scale": {"domain": ["A", "F"], "range": [[14, 7], [1, 0]]}, "legend": null},
   "strokeWidth": {"condition": {"test": "datum.t == 'A'", "value": 1.8}, "value": 1.5}
  }},
  {"data": {"values": [
   {"l":"150PSI","k":"p","x":9583,"y":1.12},{"l":"2.12S CU.M/MIN","k":"a","x":12584,"y":0.907},{"l":"125PSI","k":"p","x":15080,"y":0.81},{"l":"1.42S CU.M/MIN","k":"a","x":3400,"y":0.757},{"l":"0.71S CU.M/MIN","k":"a","x":3350,"y":0.44},{"l":"50PSI","k":"p","x":9374,"y":0.122},{"l":"75PSI","k":"p","x":13726,"y":0.118},{"l":"100PSI","k":"p","x":17541,"y":0.11}
  ]},
  "mark": {"type": "text", "fontSize": 17, "align": "center", "baseline": "middle"},
  "encoding": {"text": {"field": "l"}, "color": {"condition": {"test": "datum.k == 'p'", "value": "#58dbe8"}, "value": "#333"}}}
 ]
},
{
 "title": "AHP06-1S-225", "width": 473, "height": 293,
 "encoding": {
  "x": {"field": "x", "type": "quantitative", "title": null, "scale": {"domain": [0, 37000], "nice": false, "zero": false}, "axis": {"values": [0, 5000, 10000, 15000, 20000, 25000, 30000, 35000, 37000], "labelExpr": "indexof([0, 10000, 20000, 30000, 37000], datum.value) >= 0 ? datum.label : ''"}},
  "y": {"field": "y", "type": "quantitative", "title": null, "scale": {"domain": [0, 0.819], "nice": false}, "axis": {"values": [0.164, 0.328, 0.492, 0.656, 0.819]}}
 },
 "layer": [
  {"data": {"values": [
   {"s":"150","t":"F","x":150,"y":0.819},{"s":"150","t":"F","x":5000,"y":0.777},{"s":"150","t":"F","x":10000,"y":0.736},{"s":"150","t":"F","x":15000,"y":0.692},{"s":"150","t":"F","x":20000,"y":0.638},{"s":"150","t":"F","x":25000,"y":0.554},{"s":"150","t":"F","x":30159,"y":0.458},{"s":"150","t":"F","x":32070,"y":0.407},{"s":"150","t":"F","x":35000,"y":0.328},{"s":"150","t":"F","x":36398,"y":0.193},{"s":"150","t":"F","x":37000,"y":0.076},
   {"s":"125","t":"F","x":0,"y":0.798},{"s":"125","t":"F","x":5000,"y":0.755},{"s":"125","t":"F","x":10000,"y":0.713},{"s":"125","t":"F","x":15000,"y":0.656},{"s":"125","t":"F","x":19314,"y":0.554},{"s":"125","t":"F","x":22500,"y":0.49},{"s":"125","t":"F","x":23667,"y":0.462},{"s":"125","t":"F","x":25862,"y":0.402},{"s":"125","t":"F","x":28103,"y":0.35},{"s":"125","t":"F","x":30159,"y":0.25},{"s":"125","t":"F","x":31115,"y":0.125},{"s":"125","t":"F","x":31815,"y":0},
   {"s":"100","t":"F","x":0,"y":0.771},{"s":"100","t":"F","x":5000,"y":0.721},{"s":"100","t":"F","x":10000,"y":0.663},{"s":"100","t":"F","x":14268,"y":0.56},{"s":"100","t":"F","x":17680,"y":0.495},{"s":"100","t":"F","x":20000,"y":0.411},{"s":"100","t":"F","x":22333,"y":0.328},{"s":"100","t":"F","x":24000,"y":0.212},{"s":"100","t":"F","x":25000,"y":0},
   {"s":"75","t":"F","x":0,"y":0.732},{"s":"75","t":"F","x":5000,"y":0.637},{"s":"75","t":"F","x":10478,"y":0.536},{"s":"75","t":"F","x":12229,"y":0.49},{"s":"75","t":"F","x":15000,"y":0.416},{"s":"75","t":"F","x":17059,"y":0.328},{"s":"75","t":"F","x":18039,"y":0.212},{"s":"75","t":"F","x":18693,"y":0.076},{"s":"75","t":"F","x":18954,"y":0},
   {"s":"50","t":"F","x":0,"y":0.704},{"s":"50","t":"F","x":2695,"y":0.653},{"s":"50","t":"F","x":5000,"y":0.594},{"s":"50","t":"F","x":6154,"y":0.534},{"s":"50","t":"F","x":6853,"y":0.5},{"s":"50","t":"F","x":8601,"y":0.42},{"s":"50","t":"F","x":10000,"y":0.333},{"s":"50","t":"F","x":11592,"y":0.241},{"s":"50","t":"F","x":12389,"y":0.154},{"s":"50","t":"F","x":12803,"y":0},
   {"s":"a212","t":"A","x":5000,"y":0.747},{"s":"a212","t":"A","x":7902,"y":0.696},{"s":"a212","t":"A","x":10000,"y":0.656},{"s":"a212","t":"A","x":13439,"y":0.569},{"s":"a212","t":"A","x":16307,"y":0.505},{"s":"a212","t":"A","x":20000,"y":0.453},{"s":"a212","t":"A","x":25000,"y":0.411},{"s":"a212","t":"A","x":30000,"y":0.36},{"s":"a212","t":"A","x":35000,"y":0.309},{"s":"a212","t":"A","x":37000,"y":0.28},
   {"s":"a142","t":"A","x":5280,"y":0.633},{"s":"a142","t":"A","x":10000,"y":0.52},{"s":"a142","t":"A","x":15000,"y":0.416},{"s":"a142","t":"A","x":20000,"y":0.36},{"s":"a142","t":"A","x":25000,"y":0.309},{"s":"a142","t":"A","x":30000,"y":0.253},{"s":"a142","t":"A","x":35000,"y":0.198},{"s":"a142","t":"A","x":37000,"y":0.169},
   {"s":"a071","t":"A","x":4401,"y":0.46},{"s":"a071","t":"A","x":7048,"y":0.374},{"s":"a071","t":"A","x":10000,"y":0.328},{"s":"a071","t":"A","x":15000,"y":0.256},{"s":"a071","t":"A","x":20000,"y":0.195},{"s":"a071","t":"A","x":25000,"y":0.162},{"s":"a071","t":"A","x":30000,"y":0.144},{"s":"a071","t":"A","x":37000,"y":0.115}
  ]},
  "mark": {"type": "line", "interpolate": "monotone"},
  "encoding": {
   "detail": {"field": "s"},
   "color": {"field": "t", "type": "nominal", "title": null, "scale": {"domain": ["F", "A"], "range": ["#58dbe8", "#1a1a1a"]}, "legend": null},
   "strokeDash": {"field": "t", "type": "nominal", "title": null, "scale": {"domain": ["A", "F"], "range": [[14, 7], [1, 0]]}, "legend": null},
   "strokeWidth": {"condition": {"test": "datum.t == 'A'", "value": 1.8}, "value": 1.5}
  }},
  {"data": {"values": [
   {"l":"150PSI","k":"p","x":17549,"y":0.711},{"l":"1.42S CU.M/MIN","k":"a","x":16307,"y":0.532},{"l":"2.12S CU.M/MIN","k":"a","x":30064,"y":0.432},{"l":"0.71S CU.M/MIN","k":"a","x":6049,"y":0.275},{"l":"75PSI","k":"p","x":19412,"y":0.282},{"l":"50PSI","k":"p","x":14872,"y":0.066},{"l":"125PSI","k":"p","x":33854,"y":0.074}
  ]},
  "mark": {"type": "text", "fontSize": 17, "align": "center", "baseline": "middle"},
  "encoding": {"text": {"field": "l"}, "color": {"condition": {"test": "datum.k == 'p'", "value": "#58dbe8"}, "value": "#333"}}}
 ]
},
{
 "title": "AHP06-1S-300", "width": 472, "height": 290,
 "encoding": {
  "x": {"field": "x", "type": "quantitative", "title": "OUTLET PRESSURE(PSI)", "scale": {"domain": [0, 50000], "nice": false, "zero": false}, "axis": {"values": [0, 10000, 20000, 30000, 40000, 50000], "titleX": 519, "titleY": 49, "titleAlign": "center", "titleBaseline": "top", "titleFont": "Liberation Sans", "titleFontSize": 18}},
  "y": {"field": "y", "type": "quantitative", "title": null, "scale": {"domain": [0, 0.656], "nice": false}, "axis": {"values": [0.164, 0.328, 0.492, 0.656]}}
 },
 "layer": [
  {"data": {"values": [
   {"s":"150","t":"F","x":1765,"y":0.656},{"s":"150","t":"F","x":10000,"y":0.616},{"s":"150","t":"F","x":20000,"y":0.56},{"s":"150","t":"F","x":24364,"y":0.533},{"s":"150","t":"F","x":29873,"y":0.492},{"s":"150","t":"F","x":40000,"y":0.383},{"s":"150","t":"F","x":45253,"y":0.281},{"s":"150","t":"F","x":47198,"y":0.234},{"s":"150","t":"F","x":49144,"y":0.145},{"s":"150","t":"F","x":50000,"y":0.062},
   {"s":"125","t":"F","x":0,"y":0.637},{"s":"125","t":"F","x":10000,"y":0.595},{"s":"125","t":"F","x":17455,"y":0.534},{"s":"125","t":"F","x":22203,"y":0.492},{"s":"125","t":"F","x":30000,"y":0.403},{"s":"125","t":"F","x":33172,"y":0.364},{"s":"125","t":"F","x":36696,"y":0.305},{"s":"125","t":"F","x":38899,"y":0.23},{"s":"125","t":"F","x":40195,"y":0.184},{"s":"125","t":"F","x":41362,"y":0.108},{"s":"125","t":"F","x":42529,"y":0},
   {"s":"100","t":"F","x":0,"y":0.614},{"s":"100","t":"F","x":10000,"y":0.553},{"s":"100","t":"F","x":20000,"y":0.474},{"s":"100","t":"F","x":25424,"y":0.403},{"s":"100","t":"F","x":27966,"y":0.356},{"s":"100","t":"F","x":30000,"y":0.293},{"s":"100","t":"F","x":31410,"y":0.23},{"s":"100","t":"F","x":32291,"y":0.168},{"s":"100","t":"F","x":32952,"y":0.093},{"s":"100","t":"F","x":33524,"y":0},
   {"s":"75","t":"F","x":0,"y":0.581},{"s":"75","t":"F","x":6941,"y":0.511},{"s":"75","t":"F","x":10000,"y":0.474},{"s":"75","t":"F","x":15893,"y":0.403},{"s":"75","t":"F","x":20000,"y":0.324},{"s":"75","t":"F","x":22458,"y":0.262},{"s":"75","t":"F","x":23729,"y":0.184},{"s":"75","t":"F","x":24576,"y":0.108},{"s":"75","t":"F","x":25508,"y":0},
   {"s":"50","t":"F","x":0,"y":0.563},{"s":"50","t":"F","x":4980,"y":0.511},{"s":"50","t":"F","x":8706,"y":0.411},{"s":"50","t":"F","x":10000,"y":0.375},{"s":"50","t":"F","x":13214,"y":0.262},{"s":"50","t":"F","x":15446,"y":0.191},{"s":"50","t":"F","x":16339,"y":0.123},{"s":"50","t":"F","x":17143,"y":0},
   {"s":"a212","t":"A","x":6353,"y":0.601},{"s":"a212","t":"A","x":10000,"y":0.556},{"s":"a212","t":"A","x":13214,"y":0.521},{"s":"a212","t":"A","x":15893,"y":0.501},{"s":"a212","t":"A","x":20000,"y":0.442},{"s":"a212","t":"A","x":24576,"y":0.387},{"s":"a212","t":"A","x":30000,"y":0.342},{"s":"a212","t":"A","x":40000,"y":0.281},{"s":"a212","t":"A","x":50000,"y":0.217},
   {"s":"a142","t":"A","x":6941,"y":0.51},{"s":"a142","t":"A","x":10000,"y":0.462},{"s":"a142","t":"A","x":14107,"y":0.419},{"s":"a142","t":"A","x":20000,"y":0.348},{"s":"a142","t":"A","x":25424,"y":0.301},{"s":"a142","t":"A","x":30000,"y":0.263},{"s":"a142","t":"A","x":40000,"y":0.199},{"s":"a142","t":"A","x":50000,"y":0.129},
   {"s":"a071","t":"A","x":6078,"y":0.369},{"s":"a071","t":"A","x":8510,"y":0.312},{"s":"a071","t":"A","x":10000,"y":0.293},{"s":"a071","t":"A","x":15000,"y":0.242},{"s":"a071","t":"A","x":20000,"y":0.199},{"s":"a071","t":"A","x":25424,"y":0.16},{"s":"a071","t":"A","x":30000,"y":0.141},{"s":"a071","t":"A","x":40000,"y":0.111},{"s":"a071","t":"A","x":50000,"y":0.087}
  ]},
  "mark": {"type": "line", "interpolate": "monotone"},
  "encoding": {
   "detail": {"field": "s"},
   "color": {"field": "t", "type": "nominal", "title": null, "scale": {"domain": ["F", "A"], "range": ["#58dbe8", "#1a1a1a"]}, "legend": null},
   "strokeDash": {"field": "t", "type": "nominal", "title": null, "scale": {"domain": ["A", "F"], "range": [[14, 7], [1, 0]]}, "legend": null},
   "strokeWidth": {"condition": {"test": "datum.t == 'A'", "value": 1.8}, "value": 1.5}
  }},
  {"data": {"values": [
   {"l":"150PSI","k":"p","x":24068,"y":0.573},{"l":"2.12S CU.M/MIN","k":"a","x":23136,"y":0.514},{"l":"125PSI","k":"p","x":36300,"y":0.367},{"l":"1.42S CU.M/MIN","k":"a","x":42062,"y":0.258},{"l":"0.71S CU.M/MIN","k":"a","x":7804,"y":0.213},{"l":"75PSI","k":"p","x":25932,"y":0.215},{"l":"100PSI","k":"p","x":36300,"y":0.081},{"l":"50PSI","k":"p","x":20339,"y":0.032}
  ]},
  "mark": {"type": "text", "fontSize": 17, "align": "center", "baseline": "middle"},
  "encoding": {"text": {"field": "l"}, "color": {"condition": {"test": "datum.k == 'p'", "value": "#58dbe8"}, "value": "#333"}}}
 ]
}
]
}
